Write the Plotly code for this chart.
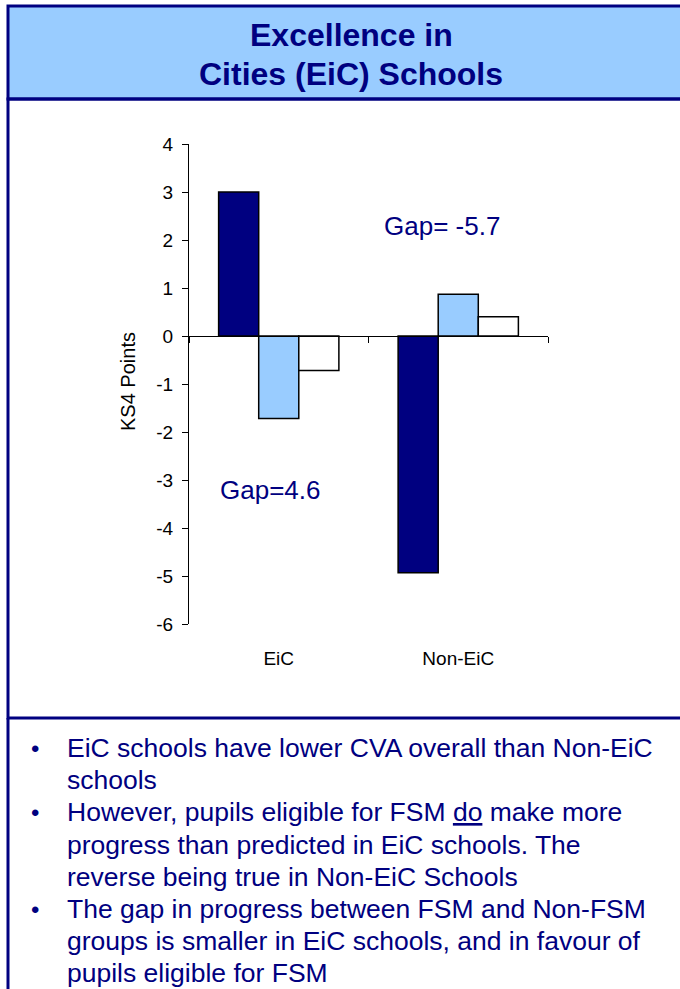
import plotly.graph_objects as go

categories = ["EiC", "Non-EiC"]
series_names = ["All pupils", "FSM", "Non-FSM"]
series_values = [
    [3.0, -4.93],
    [-1.72, 0.87],
    [-0.72, 0.40],
]
series_colors = ["#000080", "#99CCFF", "#FFFFFF"]
y_ticks = [4, 3, 2, 1, 0, -1, -2, -3, -4, -5, -6]

title_lines = ["Excellence in", "Cities (EiC) Schools"]
gap_labels = ["Gap= -5.7", "Gap=4.6"]
bullet_lines = [
    "EiC schools have lower CVA overall than Non-EiC",
    "schools",
    "However, pupils eligible for FSM <u>do</u> make more",
    "progress than predicted in EiC schools. The",
    "reverse being true in Non-EiC Schools",
    "The gap in progress between FSM and Non-FSM",
    "groups is smaller in EiC schools, and in favour of",
    "pupils eligible for FSM",
]
bullet_marks = [True, False, True, False, False, True, False, False]

NAVY = "#000080"
W, H = 680, 989
L, R, T, B = 189, 548, 144, 624  # plot area in pixels


def px(x):
    return (x - L) / (R - L)


def py(y):
    return (B - y) / (B - T)


fig = go.Figure()
for name, vals, col in zip(series_names, series_values, series_colors):
    fig.add_trace(go.Bar(
        x=categories, y=vals, name=name,
        marker=dict(color=col, line=dict(color="#000000", width=1.5)),
        showlegend=False, hoverinfo="skip",
    ))

# invisible helper trace for the category axis drawn through zero
fig.add_trace(go.Scatter(
    x=categories, y=[0, 0], xaxis="x2", mode="markers",
    marker=dict(opacity=0), showlegend=False, hoverinfo="skip",
))

font_family = "Liberation Sans, Arial, sans-serif"

fig.update_layout(
    width=W, height=H, autosize=False,
    margin=dict(l=L, r=W - R, t=T, b=H - B, pad=0),
    paper_bgcolor="white", plot_bgcolor="white",
    barmode="group", bargap=0.33, bargroupgap=0,
    font=dict(family=font_family, color="#000000"),
    xaxis=dict(
        type="category", range=[-0.5, 1.5], showline=False, showgrid=False,
        zeroline=False, ticks="", tickfont=dict(size=19, color="#000000"),
        ticklabelstandoff=21,
    ),
    xaxis2=dict(
        type="category", range=[-0.5, 1.5], overlaying="x", anchor="free",
        position=0.6, showline=True, linecolor="#000000", linewidth=1,
        ticks="outside", ticklen=6, tickwidth=1, tickcolor="#000000",
        tickson="boundaries", showticklabels=False, showgrid=False,
        zeroline=False,
    ),
    yaxis=dict(
        range=[-6, 4], tickvals=y_ticks, ticktext=[str(v) for v in y_ticks],
        showline=True, linecolor="#000000", linewidth=1,
        ticks="outside", ticklen=6, tickwidth=1, tickcolor="#000000",
        showgrid=False, zeroline=False, tickfont=dict(size=19, color="#000000"),
        ticklabelstandoff=5,
    ),
)

shapes = [
    dict(type="rect", xref="paper", yref="paper",
         x0=px(8), x1=px(690), y0=py(6), y1=py(99),
         fillcolor="#99CCFF", line=dict(color=NAVY, width=3), layer="below"),
    dict(type="rect", xref="paper", yref="paper",
         x0=px(8), x1=px(690), y0=py(99), y1=py(718),
         fillcolor="rgba(0,0,0,0)", line=dict(color=NAVY, width=3), layer="below"),
    dict(type="line", xref="paper", yref="paper",
         x0=px(8), x1=px(8), y0=py(718), y1=py(1000),
         line=dict(color=NAVY, width=3), layer="below"),
]
fig.update_layout(shapes=shapes)

annotations = []
for text, yc in zip(title_lines, [35, 74]):
    annotations.append(dict(
        text=text, x=px(351), y=py(yc), xref="paper", yref="paper",
        showarrow=False, xanchor="center", yanchor="middle",
        font=dict(size=32, color=NAVY, family=font_family, weight="bold")))

annotations.append(dict(
    text="KS4 Points", x=px(128), y=py(382), xref="paper", yref="paper",
    showarrow=False, textangle=-90, xanchor="center", yanchor="middle",
    font=dict(size=20, color="#000000")))

for text, (x0, yc) in zip(gap_labels, [(382, 226), (218, 490)]):
    annotations.append(dict(
        text=text, x=px(x0), y=py(yc), xref="paper", yref="paper",
        showarrow=False, xanchor="left", yanchor="middle",
        font=dict(size=26, color=NAVY)))

line_y0, line_step = 748, 32.2
for i, (line, mark) in enumerate(zip(bullet_lines, bullet_marks)):
    yc = line_y0 + i * line_step
    annotations.append(dict(
        text=line, x=px(65), y=py(yc), xref="paper", yref="paper",
        showarrow=False, xanchor="left", yanchor="middle", align="left",
        font=dict(size=26.5, color=NAVY)))
    if mark:
        annotations.append(dict(
            text="•", x=px(35), y=py(yc), xref="paper", yref="paper",
            showarrow=False, xanchor="center", yanchor="middle",
            font=dict(size=24, color=NAVY)))

fig.update_layout(annotations=annotations)
fig.write_html("out.html", config={"displayModeBar": False},
               post_script="document.body.style.margin='0';")
